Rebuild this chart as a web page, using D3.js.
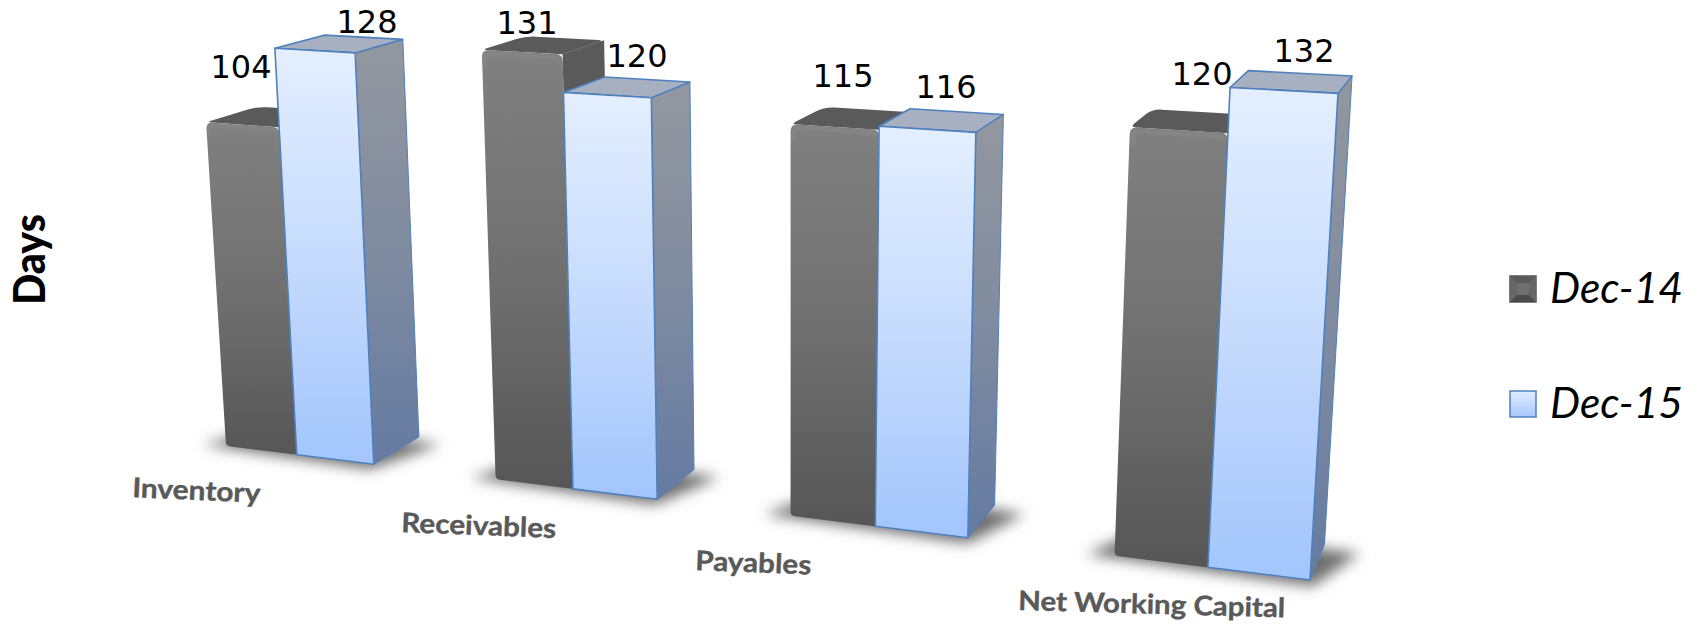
<!DOCTYPE html>
<html>
<head>
<meta charset="utf-8">
<script src="https://cdnjs.cloudflare.com/ajax/libs/d3/7.8.5/d3.min.js"></script>
<style>
  html, body { margin: 0; padding: 0; background: #fff; }
  svg { display: block; }
</style>
</head>
<body>
<svg id="chart" width="1703" height="624"></svg>
<script>
// Working-capital days by component
const categories = ["Inventory", "Receivables", "Payables", "Net Working Capital"];
const seriesNames = ["Dec-14", "Dec-15"];
const dec14 = [104, 131, 115, 120];
const dec15 = [128, 120, 116, 132];
const axisTitle = "Days";

// Text placement: [x, baseline y]
const valueLabelPos14 = [[241, 78], [527, 34], [843, 87], [1202, 85]];
const valueLabelPos15 = [[367, 33], [637, 67], [946, 98], [1304, 62]];
// Category text: [x, baseline y, width, tilt in degrees]
const categoryLabelPos = [
  [132, 497, 128, 2.6], [401, 532, 155, 2.2], [695, 570, 116, 2.2], [1018, 610, 267, 1.6]
];

// World units: a bar is about 1 wide and 1 deep, Dec-15 bars slightly wider
const barWidths = [1.02, 1.085];
const groupWidth = d3.sum(barWidths), gapWidth = 1.66;
const worldWidth = categories.length * (groupWidth + gapWidth) - gapWidth;
const yMax = 132;

const xBand = d3.scaleBand().domain(categories).range([0, worldWidth])
  .paddingInner(gapWidth / (groupWidth + gapWidth)).paddingOuter(0);
const xSeries = d3.scaleOrdinal().domain(seriesNames).range([0, barWidths[0]]);
const widthOf = d3.scaleOrdinal().domain(seriesNames).range(barWidths);
const uScale = d3.scaleLinear().domain([0, worldWidth]).range([0, 1]);
const vScale = d3.scaleLinear().domain([0, yMax]).range([0, 1]);

// Camera: front plane quad plus a vanishing point for the depth axis
const frontQuad = [[226, 446], [1310, 580], [1338, 93.4], [200.5, 31]];
const depthVanish = [1675, -322];
const depthWeight = 0.035;

function makeProjection(q, vp, wz) {
  const [p0, p1, p2, p3] = q;
  const dx1 = p1[0] - p2[0], dx2 = p3[0] - p2[0], sx = p0[0] - p1[0] + p2[0] - p3[0];
  const dy1 = p1[1] - p2[1], dy2 = p3[1] - p2[1], sy = p0[1] - p1[1] + p2[1] - p3[1];
  const det = dx1 * dy2 - dx2 * dy1;
  const g = (sx * dy2 - dx2 * sy) / det;
  const h = (dx1 * sy - sx * dy1) / det;
  const a = p1[0] - p0[0] + g * p1[0], b = p3[0] - p0[0] + h * p3[0];
  const d = p1[1] - p0[1] + g * p1[1], e = p3[1] - p0[1] + h * p3[1];
  return (X, Y, Z) => {
    const u = uScale(X), v = vScale(Y), t = Z * wz;
    const w = g * u + h * v + 1 + t;
    return [(a * u + b * v + p0[0] + t * vp[0]) / w,
            (d * u + e * v + p0[1] + t * vp[1]) / w];
  };
}
const project = makeProjection(frontQuad, depthVanish, depthWeight);

const polygon = d3.line().curve(d3.curveLinearClosed);

// Closed path with each corner rounded by its own radius
function roundedPath(pts, radii) {
  const n = pts.length;
  const path = d3.path();
  pts.forEach((p, i) => {
    const prev = pts[(i + n - 1) % n], next = pts[(i + 1) % n], r = radii[i];
    const toward = (from, to, dist) => {
      const len = Math.hypot(to[0] - from[0], to[1] - from[1]);
      return [from[0] + (to[0] - from[0]) * dist / len, from[1] + (to[1] - from[1]) * dist / len];
    };
    const s = toward(p, prev, r), e = toward(p, next, r);
    if (i === 0) path.moveTo(s[0], s[1]); else path.lineTo(s[0], s[1]);
    path.quadraticCurveTo(p[0], p[1], e[0], e[1]);
  });
  path.closePath();
  return path.toString();
}

const svg = d3.select("#chart");
const defs = svg.append("defs");

function verticalGradient(id, stops) {
  const grad = defs.append("linearGradient").attr("id", id)
    .attr("x1", 0).attr("y1", 0).attr("x2", 0).attr("y2", 1);
  stops.forEach(([offset, color]) =>
    grad.append("stop").attr("offset", offset).attr("stop-color", color));
}
verticalGradient("darkFront", [[0, "#808080"], [0.5, "#707070"], [1, "#565656"]]);
verticalGradient("blueFront", [[0, "#e4efff"], [0.5, "#c6dbfd"], [1, "#a2c5fc"]]);
verticalGradient("blueSide", [[0, "#93979f"], [0.5, "#7f8ba0"], [1, "#657ba2"]]);
verticalGradient("swatchBlue", [[0, "#e0ecff"], [1, "#a8c8fb"]]);

defs.append("filter").attr("id", "shadowBlur")
  .attr("x", "-30%").attr("y", "-60%").attr("width", "160%").attr("height", "220%")
  .append("feGaussianBlur").attr("stdDeviation", 7);
defs.append("filter").attr("id", "bevelBlur")
  .attr("x", "-20%").attr("y", "-20%").attr("width", "140%").attr("height", "140%")
  .append("feGaussianBlur").attr("stdDeviation", 1.4);

const groups = svg.append("g").selectAll("g.category")
  .data(categories.map((name, i) => ({ name, a: dec14[i], b: dec15[i] })))
  .join("g").attr("class", "category");

// Soft floor shadow under each pair of bars
groups.append("path")
  .attr("d", d => {
    const x0 = xBand(d.name);
    return polygon([
      project(x0 - 0.3, 0, -0.05), project(x0 + groupWidth + 0.05, 0, -0.15),
      project(x0 + groupWidth + 0.4, 0, 0.85), project(x0 + 0.2, 0, 1)]);
  })
  .attr("fill", "#6e6e6e").attr("filter", "url(#shadowBlur)");

// Dec-14: dark bevelled bar, right side shows only above a shorter neighbour
groups.each(function (d) {
  const g = d3.select(this);
  const name = "Dec-14";
  const x0 = xBand(d.name) + xSeries(name), x1 = x0 + widthOf(name), h = d.a;

  g.append("path").attr("fill", "#5a5a5a")
    .attr("d", polygon([project(x1, h, 0), project(x1, h, 1), project(x1, 0, 1), project(x1, 0, 0)]));

  g.append("path").attr("fill", "#5a5a5a")
    .attr("d", roundedPath(
      [project(x0, h, 0), project(x0, h, 1), project(x1, h, 1), project(x1, h, 0)], [6, 10, 6, 1]));

  const front = [project(x0, h, 0), project(x1, h, 0), project(x1, 0, 0), project(x0, 0, 0)];
  g.append("path").attr("fill", "url(#darkFront)").attr("d", roundedPath(front, [7, 7, 1, 4]));

  // Highlight rolling over the top edge of the bevel
  const inset = 0.035;
  g.append("path").attr("fill", "none").attr("stroke", "#9c9c9c").attr("stroke-width", 2)
    .attr("opacity", 0.45).attr("filter", "url(#bevelBlur)")
    .attr("d", d3.line()([
      project(x0 + inset, h * 0.96, 0), project(x0 + inset, h * 0.985, 0),
      project(x0 + 2 * inset, h * 0.992, 0), project(x1 - 2 * inset, h * 0.992, 0),
      project(x1 - inset, h * 0.985, 0)]));
});

// Dec-15: light blue bar with outlined faces
groups.each(function (d) {
  const g = d3.select(this);
  const name = "Dec-15";
  const x0 = xBand(d.name) + xSeries(name), x1 = x0 + widthOf(name), h = d.b;
  const outline = sel => sel.attr("stroke", "#4f81bd").attr("stroke-width", 1.6).attr("stroke-linejoin", "round");

  outline(g.append("path").attr("fill", "url(#blueSide)"))
    .attr("stroke-width", 1)
    .attr("d", polygon([project(x1, h, 0), project(x1, h, 1), project(x1, 0, 1), project(x1, 0, 0)]));
  outline(g.append("path").attr("fill", "#a7b0c1"))
    .attr("d", polygon([project(x0, h, 0), project(x0, h, 1), project(x1, h, 1), project(x1, h, 0)]));
  outline(g.append("path").attr("fill", "url(#blueFront)"))
    .attr("d", polygon([project(x0, h, 0), project(x1, h, 0), project(x1, 0, 0), project(x0, 0, 0)]));
});

// Value labels
const valueFont = "'DejaVu Sans', Verdana, sans-serif";
function addValues(values, positions) {
  svg.append("g").selectAll("text").data(values).join("text")
    .attr("x", (d, i) => positions[i][0]).attr("y", (d, i) => positions[i][1])
    .attr("text-anchor", "middle").attr("font-family", valueFont)
    .attr("font-size", 32).attr("fill", "#000").text(d => d);
}
addValues(dec14, valueLabelPos14);
addValues(dec15, valueLabelPos15);

// Category labels, tilted slightly with the floor
svg.append("g").selectAll("text").data(categories).join("text")
  .attr("transform", (d, i) => {
    const [x, y, , tilt] = categoryLabelPos[i];
    return `translate(${x},${y}) rotate(${tilt})`;
  })
  .attr("textLength", (d, i) => categoryLabelPos[i][2]).attr("lengthAdjust", "spacingAndGlyphs")
  .attr("font-family", "Lato, sans-serif").attr("font-weight", 700)
  .attr("font-size", 27).attr("fill", "#595959")
  .attr("stroke", "#595959").attr("stroke-width", 0.4).text(d => d);

// Axis title
svg.append("text")
  .attr("transform", "translate(45,305) rotate(-90)")
  .attr("textLength", 91).attr("lengthAdjust", "spacingAndGlyphs")
  .attr("font-family", "Lato, sans-serif").attr("font-weight", 900)
  .attr("font-size", 44).attr("fill", "#000").text(axisTitle);

// Legend
const legendRows = [
  { name: seriesNames[0], y: 276, fill: "#707070", stroke: "#555", bevel: true },
  { name: seriesNames[1], y: 391, fill: "url(#swatchBlue)", stroke: "#4f81bd", bevel: false }
];
const swatchX = 1510, swatchSize = 26;
const legend = svg.append("g").selectAll("g").data(legendRows).join("g");
legend.append("rect")
  .attr("x", swatchX).attr("y", d => d.y).attr("width", swatchSize).attr("height", swatchSize)
  .attr("fill", d => d.fill).attr("stroke", d => d.stroke).attr("stroke-width", 1.5);
// Bevelled frame on the dark swatch: lit from the top, shaded below
const bevelInset = 7;
legend.filter(d => d.bevel).each(function (d) {
  const l = swatchX, r = swatchX + swatchSize, t = d.y, b = d.y + swatchSize;
  const g = d3.select(this);
  g.append("path").attr("fill", "#5a5a5a")
    .attr("d", polygon([[l, t], [r, t], [r - bevelInset, t + bevelInset], [l + bevelInset, t + bevelInset]]));
  g.append("path").attr("fill", "#4a4a4a")
    .attr("d", polygon([[l, b], [r, b], [r - bevelInset, b - bevelInset], [l + bevelInset, b - bevelInset]]));
  g.append("path").attr("fill", "#666666")
    .attr("d", polygon([[l, t], [l + bevelInset, t + bevelInset], [l + bevelInset, b - bevelInset], [l, b]]));
  g.append("path").attr("fill", "#666666")
    .attr("d", polygon([[r, t], [r - bevelInset, t + bevelInset], [r - bevelInset, b - bevelInset], [r, b]]));
});
legend.append("text")
  .attr("x", 1550).attr("y", d => d.y + 27)
  .attr("textLength", 133).attr("lengthAdjust", "spacingAndGlyphs")
  .attr("font-family", "Lato, sans-serif").attr("font-style", "italic")
  .attr("font-size", 43).attr("fill", "#000").text(d => d.name);
</script>
</body>
</html>
